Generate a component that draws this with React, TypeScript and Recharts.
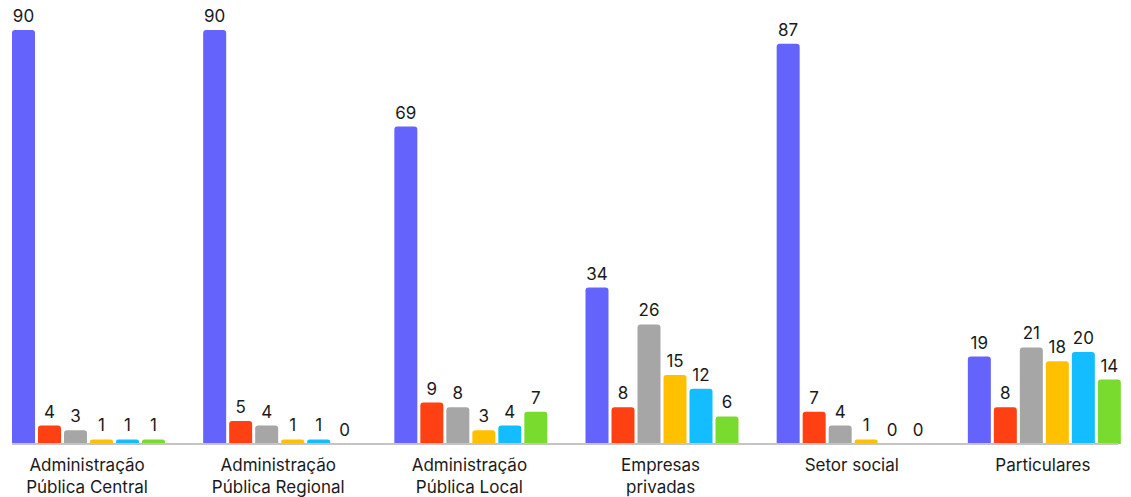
import React from 'react'
import { Bar, BarChart, LabelList, XAxis, YAxis } from 'recharts'

const categories = [
    'Administração\nPública Central',
    'Administração\nPública Regional',
    'Administração\nPública Local',
    'Empresas\nprivadas',
    'Setor social',
    'Particulares',
]

const serie1 = [90, 90, 69, 34, 87, 19]
const serie2 = [4, 5, 9, 8, 7, 8]
const serie3 = [3, 4, 8, 26, 4, 21]
const serie4 = [1, 1, 3, 15, 1, 18]
const serie5 = [1, 1, 4, 12, 0, 20]
const serie6 = [1, 0, 7, 6, 0, 14]

const series = [
    { key: 's1', values: serie1, color: '#6464fc' },
    { key: 's2', values: serie2, color: '#ff4012' },
    { key: 's3', values: serie3, color: '#a6a6a6' },
    { key: 's4', values: serie4, color: '#ffc000' },
    { key: 's5', values: serie5, color: '#14bdff' },
    { key: 's6', values: serie6, color: '#78db2e' },
]

const data = categories.map((name, i) => {
    const row: any = { name }
    series.forEach(s => { row[s.key] = s.values[i] })
    return row
})

const FONT = 'Inter, "DejaVu Sans", sans-serif'

function CategoryTick({ x, y, payload }: any) {
    const lines = String(payload.value).split('\n')
    return (
        <text x={x} y={y} textAnchor="middle" fill="#1a1a1a" fontSize={17} fontFamily={FONT}>
            {lines.map((line, i) => (
                <tspan key={i} x={x} dy={i === 0 ? 19 : 22}>{line}</tspan>
            ))}
        </text>
    )
}

// custom label so that zero values still get their "0"
function ValueLabel({ x, y, width, value }: any) {
    if (value === undefined || value === null) return null
    return (
        <text x={Number(x) + Number(width) / 2} y={Number(y) - 8} textAnchor="middle"
            fill="#1a1a1a" fontSize={17} fontFamily={FONT}>
            {value}
        </text>
    )
}

function App() {
    return (
        <div style={{ position: 'absolute', left: 0, top: 0 }}>
            <BarChart width={1131} height={497} data={data}
                margin={{ top: 30, right: 13, left: 12, bottom: 0 }}
                barCategoryGap={20.5} barGap={3}>
                <XAxis dataKey="name" height={53} padding={{ left: -20.5, right: -20.5 }}
                    tickLine={false} axisLine={{ stroke: '#c4c4c4', strokeWidth: 2 }}
                    tick={<CategoryTick />} interval={0} />
                <YAxis hide domain={[0, 90]} />
                {series.map(s => (
                    <Bar key={s.key} dataKey={s.key} fill={s.color} radius={[3, 3, 0, 0]}
                        minPointSize={0.01} isAnimationActive={false}>
                        <LabelList dataKey={s.key} content={<ValueLabel />} />
                    </Bar>
                ))}
            </BarChart>
        </div>
    )
}

export default App
